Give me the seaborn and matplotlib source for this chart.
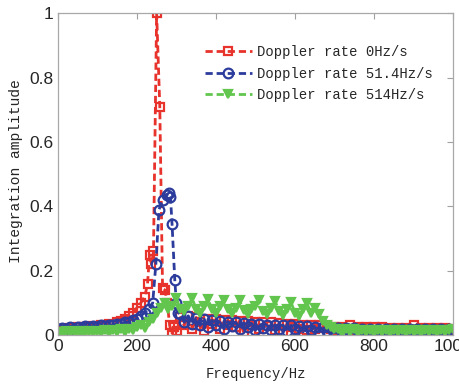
import matplotlib
matplotlib.use("Agg")
import matplotlib.pyplot as plt
import numpy as np
import pandas as pd
import seaborn as sns

# frequency grids (Hz)
RED_FREQ = list(range(0, 221, 10)) + [227, 232, 237, 242, 250, 258, 265, 271, 277, 283, 289, 295, 301] + list(range(310, 1001, 10))
BLUE_FREQ = list(range(0, 221, 10)) + [231, 240, 248, 256, 265, 275, 281, 285, 289, 296, 300, 305] + list(range(310, 1001, 10))
GREEN_FREQ = list(range(0, 1001, 10))

# integration amplitude, Doppler rate 0 Hz/s
RED_AMP = [
    0.015, 0.02, 0.012, 0.022, 0.015, 0.024, 0.016, 0.026, 0.02, 0.028, 0.022, 0.03,
    0.026, 0.035, 0.03, 0.04, 0.045, 0.05, 0.06, 0.07, 0.085, 0.1, 0.12,
    0.16, 0.25, 0.22, 0.26, 1.0, 0.71, 0.145, 0.14, 0.1, 0.03, 0.006, 0.025, 0.012,
    0.055, 0.03, 0.058, 0.02, 0.055, 0.04, 0.012, 0.05, 0.035, 0.05,
    0.02, 0.048, 0.03, 0.046, 0.025, 0.045, 0.01, 0.043, 0.03, 0.042,
    0.02, 0.04, 0.028, 0.04, 0.015, 0.038, 0.01, 0.036, 0.025, 0.035,
    0.02, 0.033, 0.015, 0.03, 0.02, 0.03, 0.022, 0.028, 0.018, 0.026,
    0.015, 0.025, 0.018, 0.032, 0.015, 0.024, 0.018, 0.025, 0.014, 0.024,
    0.016, 0.024, 0.014, 0.023, 0.016, 0.023, 0.014, 0.022, 0.016, 0.03,
    0.014, 0.022, 0.016, 0.022, 0.014, 0.021, 0.015, 0.021, 0.014, 0.02,
]

# Doppler rate 51.4 Hz/s
BLUE_AMP = [
    0.02, 0.022, 0.018, 0.024, 0.02, 0.025, 0.022, 0.027, 0.024, 0.028, 0.026, 0.03,
    0.028, 0.032, 0.03, 0.035, 0.034, 0.04, 0.04, 0.047, 0.05, 0.06, 0.07,
    0.08, 0.10, 0.22, 0.39, 0.42, 0.435, 0.44, 0.43, 0.345, 0.17, 0.10, 0.07,
    0.065, 0.04, 0.06, 0.035, 0.052, 0.03, 0.05, 0.025, 0.046, 0.03,
    0.044, 0.02, 0.042, 0.028, 0.04, 0.02, 0.038, 0.025, 0.036, 0.015,
    0.035, 0.022, 0.033, 0.015, 0.032, 0.02, 0.031, 0.012, 0.03, 0.018,
    0.028, 0.01, 0.027, 0.015, 0.026, 0.01, 0.024, 0.012, 0.022, 0.008,
    0.022, 0.01, 0.021, 0.008, 0.021, 0.012, 0.02, 0.008, 0.02, 0.01,
    0.02, 0.008, 0.02, 0.012, 0.02, 0.008, 0.02, 0.01, 0.02, 0.008,
    0.02, 0.012, 0.02, 0.008, 0.02, 0.01, 0.02, 0.008, 0.02, 0.012,
]

# Doppler rate 514 Hz/s
GREEN_AMP = [
    0.01, 0.005, 0.012, 0.006, 0.012, 0.005, 0.013, 0.006, 0.014, 0.007, 0.014,
    0.008, 0.015, 0.008, 0.016, 0.01, 0.018, 0.01, 0.02, 0.015, 0.025,
    0.03, 0.022, 0.04, 0.05, 0.07,
    0.085, 0.1, 0.08, 0.09, 0.115, 0.08, 0.075, 0.09, 0.115, 0.08,
    0.07, 0.09, 0.112, 0.08, 0.07, 0.09, 0.11, 0.08, 0.068, 0.085,
    0.108, 0.078, 0.065, 0.08, 0.09, 0.108, 0.075, 0.065, 0.085, 0.105,
    0.075, 0.062, 0.08, 0.102, 0.07, 0.06, 0.08, 0.1, 0.07, 0.085,
    0.065, 0.045, 0.03, 0.025, 0.02, 0.018, 0.008, 0.018, 0.01, 0.018,
    0.008, 0.017, 0.01, 0.017, 0.008, 0.017, 0.01, 0.017, 0.008, 0.016,
    0.01, 0.016, 0.008, 0.016, 0.01, 0.016, 0.008, 0.016, 0.01, 0.016,
    0.008, 0.016, 0.01, 0.016, 0.02,
]

LABELS = ["Doppler rate 0Hz/s", "Doppler rate 51.4Hz/s", "Doppler rate 514Hz/s"]
X_TICKS = [0, 200, 400, 600, 800, 1000]
Y_TICKS = [0, 0.2, 0.4, 0.6, 0.8, 1]
Y_TICK_LABELS = ["0", "0.2", "0.4", "0.6", "0.8", "1"]

SERIES = [
    (RED_FREQ, RED_AMP, LABELS[0], "#e8322c", "s", 6, "none"),
    (BLUE_FREQ, BLUE_AMP, LABELS[1], "#2c3c9c", "o", 7, "none"),
    (GREEN_FREQ, GREEN_AMP, LABELS[2], "#62c64e", "v", 5.5, None),
]

sns.set_style("white")
plt.rcParams["font.family"] = ["Liberation Sans Narrow", "Liberation Sans", "DejaVu Sans"]

fig = plt.figure(figsize=(4.59, 3.87), dpi=100)
ax = fig.add_axes([0.126, 0.134, 0.861, 0.832])

for freq, amp, label, color, marker, msize, face in SERIES:
    df = pd.DataFrame({"freq": freq, "amp": amp})
    sns.lineplot(
        data=df, x="freq", y="amp", ax=ax, label=label, color=color,
        linestyle=(0, (2.6, 1.4)), linewidth=2, marker=marker, markersize=msize,
        markerfacecolor=face if face else color, markeredgecolor=color,
        markeredgewidth=1.6, estimator=None,
    )

ax.set_xlim(0, 1000)
ax.set_ylim(0, 1)
ax.set_xticks(X_TICKS)
ax.set_yticks(Y_TICKS)
ax.set_yticklabels(Y_TICK_LABELS)
ax.tick_params(direction="in", length=4, width=0.8, color="#a0a0a0",
               top=True, right=True, labelsize=12.5, pad=3)
for spine in ax.spines.values():
    spine.set_color("#a8a8a8")
    spine.set_linewidth(0.9)

mono = ["Liberation Mono", "DejaVu Sans Mono"]
ax.set_xlabel("Frequency/Hz", fontdict={"family": mono, "size": 10})
ax.set_ylabel("Integration amplitude", fontdict={"family": mono, "size": 10.5})
ax.xaxis.set_label_coords(0.5, -0.1)
ax.yaxis.set_label_coords(-0.087, 0.51)

ax.legend(loc="upper left", bbox_to_anchor=(0.34, 0.94), frameon=False,
          prop={"family": mono, "size": 10},
          handlelength=3.4, handletextpad=0.4, labelspacing=0.55)

fig.savefig("out.png", dpi=100)
